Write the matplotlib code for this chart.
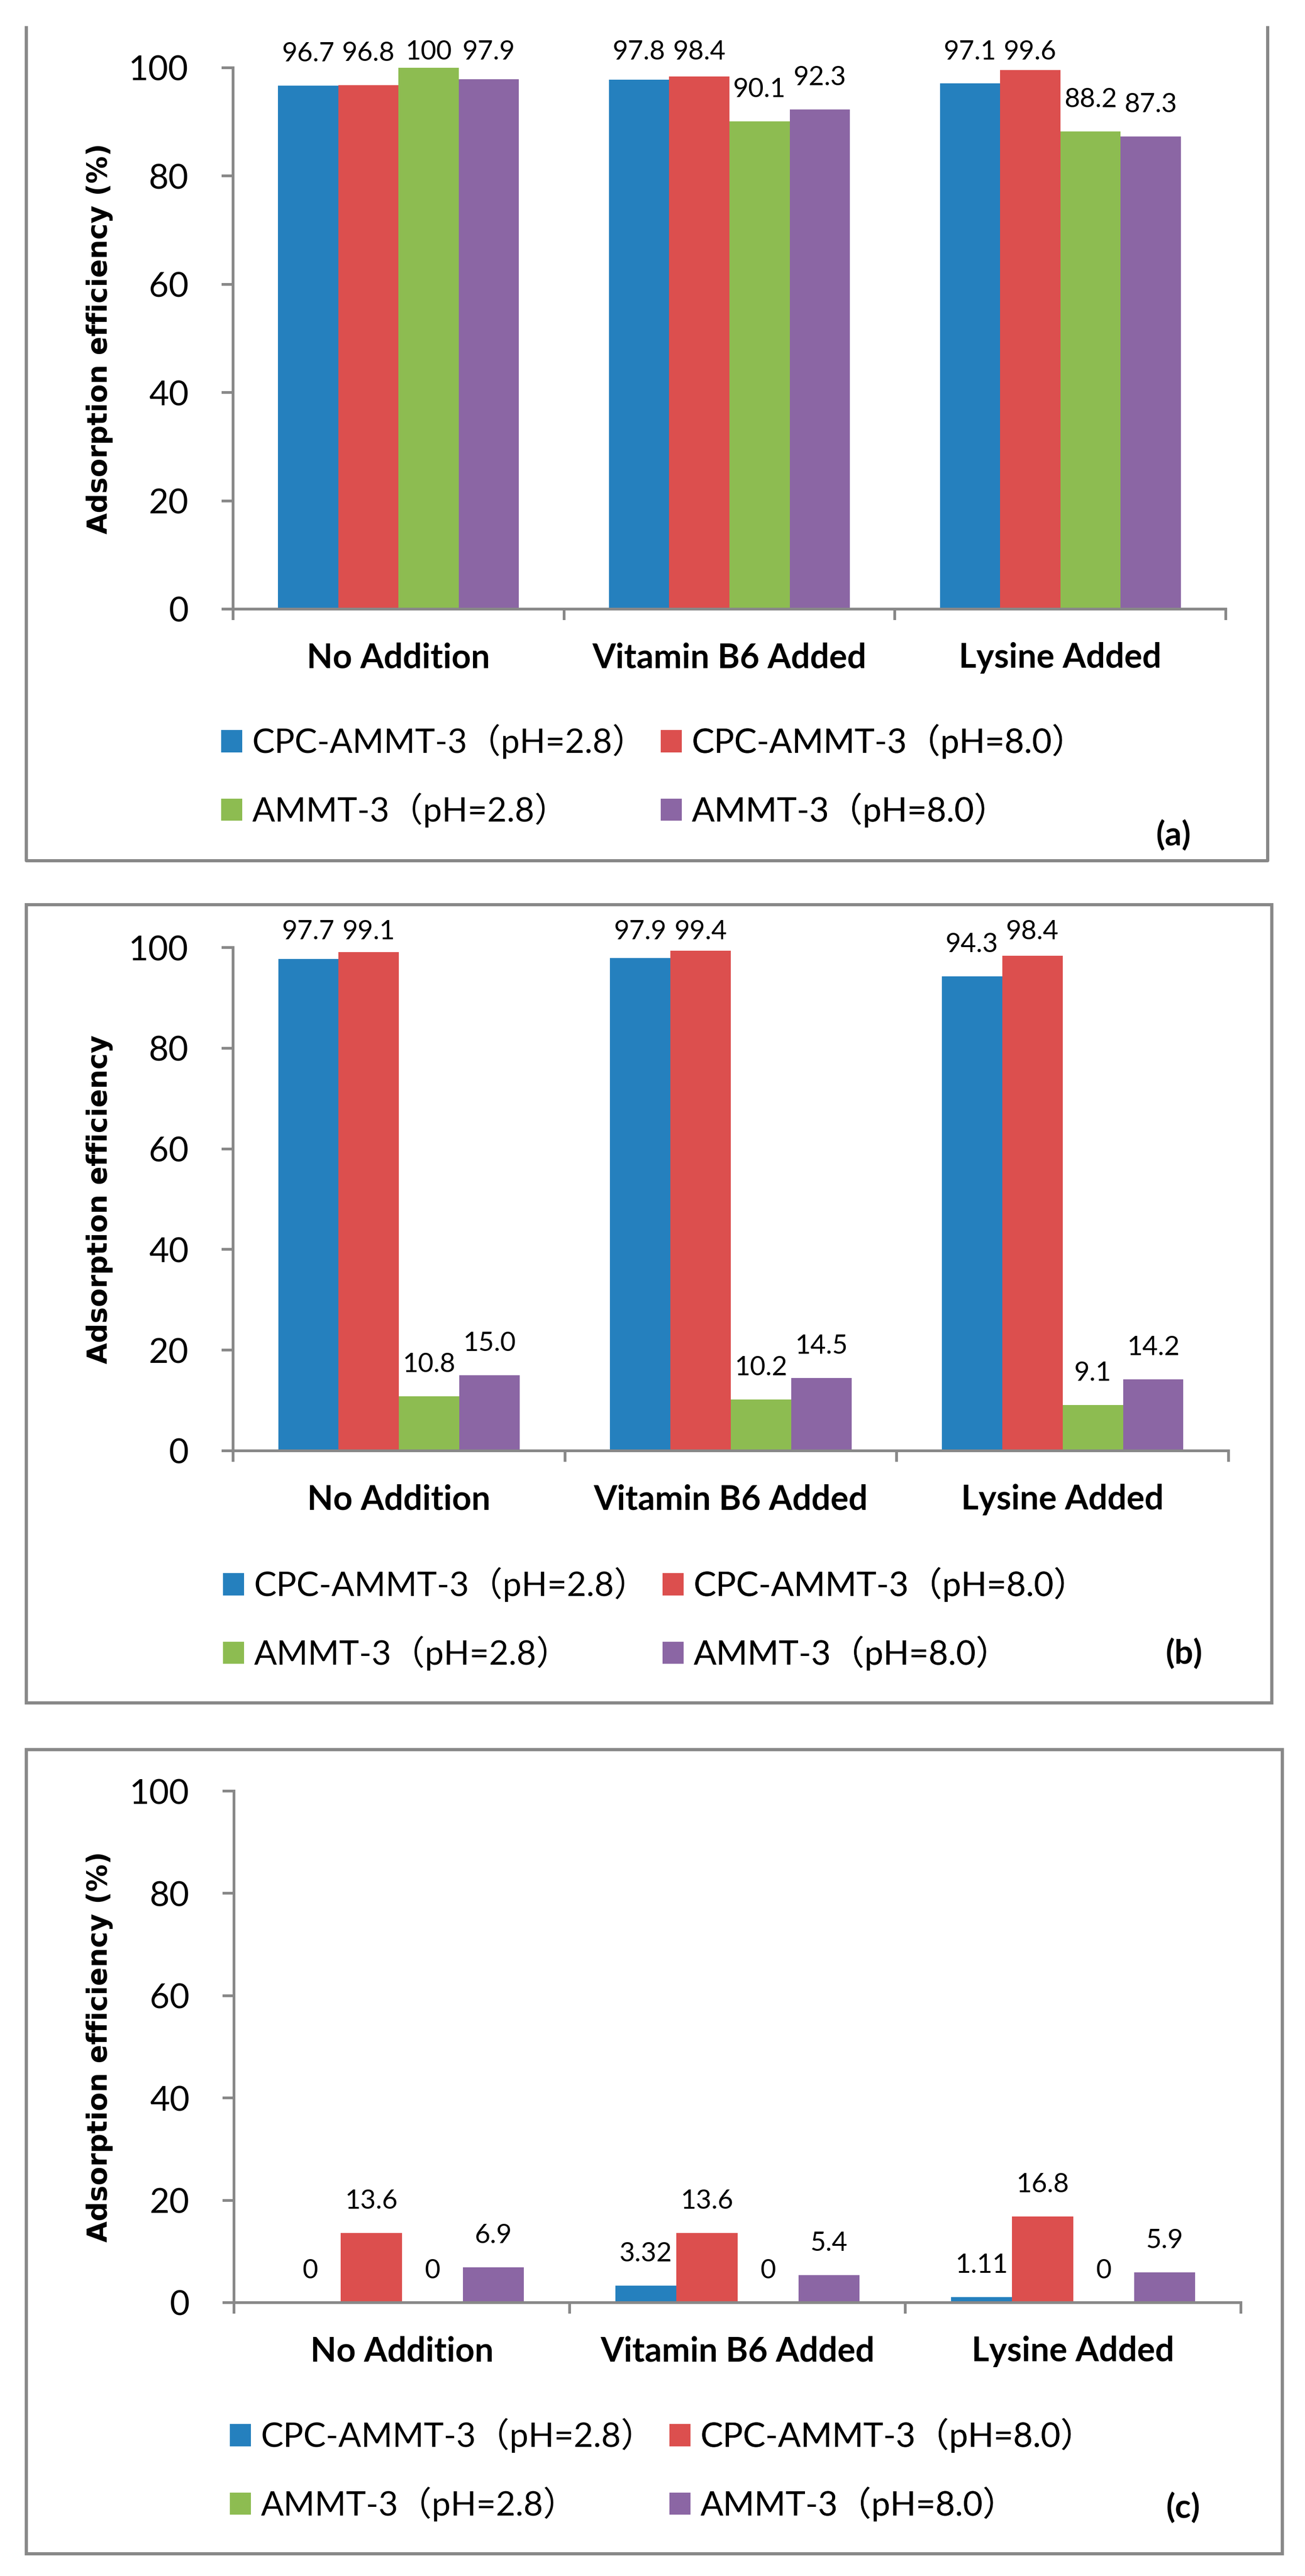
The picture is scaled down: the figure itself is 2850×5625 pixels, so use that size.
import matplotlib
matplotlib.use("Agg")
import numpy as np
import matplotlib.pyplot as plt
from matplotlib.patches import Patch, Rectangle
from matplotlib.lines import Line2D

# -------------------------------
# Data
# -------------------------------
categories = ["No Addition", "Vitamin B6 Added", "Lysine Added"]
series_names = ["CPC-AMMT-3（pH=2.8）", "CPC-AMMT-3（pH=8.0）",
                "AMMT-3（pH=2.8）", "AMMT-3（pH=8.0）"]
colors = ["#2580BE", "#DC4F4E", "#8DBC51", "#8B66A4"]
yticks = [0, 20, 40, 60, 80, 100]

# panel (a)
cpc_28_a = [96.7, 97.8, 97.1]
cpc_80_a = [96.8, 98.4, 99.6]
ammt_28_a = [100, 90.1, 88.2]
ammt_80_a = [97.9, 92.3, 87.3]

# panel (b)
cpc_28_b = [97.7, 97.9, 94.3]
cpc_80_b = [99.1, 99.4, 98.4]
ammt_28_b = [10.8, 10.2, 9.1]
ammt_80_b = [15.0, 14.5, 14.2]

# panel (c)
cpc_28_c = [0, 3.32, 1.11]
cpc_80_c = [13.6, 13.6, 16.8]
ammt_28_c = [0, 0, 0]
ammt_80_c = [6.9, 5.4, 5.9]

# -------------------------------
# Layout (pixels of the 2850 x 5625 canvas)
# -------------------------------
W, H = 2850, 5625
DPI = 100
GRAY = "#888888"
TXT = ["Lato", "Noto Sans CJK SC", "DejaVu Sans"]


def fx(px):
    return px / W


def fy(py):
    return 1 - py / H


panels = [
    dict(series=[cpc_28_a, cpc_80_a, ammt_28_a, ammt_80_a], fmt="{:g}",
         ylabel="Adsorption efficiency (%)", tag="(a)",
         axes=(509, 148, 2677, 1330), frame=(57, 60, 2768, 1879), top_line=False,
         legend=(483, 1694), tag_pos=(2563, 1824)),
    dict(series=[cpc_28_b, cpc_80_b, ammt_28_b, ammt_80_b], fmt="{:.1f}",
         ylabel="Adsorption efficiency", tag="(b)",
         axes=(509, 2069, 2683, 3168), frame=(57, 1975, 2777, 3718), top_line=True,
         legend=(487, 3535), tag_pos=(2586, 3611)),
    dict(series=[cpc_28_c, cpc_80_c, ammt_28_c, ammt_80_c], fmt="{:g}",
         ylabel="Adsorption efficiency (%)", tag="(c)",
         axes=(511, 3911, 2710, 5028), frame=(57, 3820, 2800, 5576), top_line=True,
         legend=(502, 5393), tag_pos=(2584, 5476)),
]
LEGEND_COL_STEP = 960  # px between the two legend columns

fig = plt.figure(figsize=(W / DPI, H / DPI), dpi=DPI)
fig.patch.set_facecolor("white")

x = np.arange(len(categories))
w = 0.182

for p in panels:
    l, t, r, b = p["axes"]
    ax = fig.add_axes([fx(l), fy(b), fx(r) - fx(l), fy(t) - fy(b)])

    for i, vals in enumerate(p["series"]):
        ax.bar(x + (i - 1.5) * w, vals, w, color=colors[i], label=series_names[i], zorder=2)

    ax.set_xlim(-0.5, 2.5)
    ax.set_ylim(0, 100)
    ax.set_yticks(yticks)

    # data labels: 53 px above bar top, capped just above the 100 line
    ppu = (b - t) / 100.0
    gap = 53 / ppu
    cap = 100 + 18 / ppu
    for i, vals in enumerate(p["series"]):
        for xi, v in zip(x, vals):
            ax.text(xi + (i - 1.5) * w, min(v + gap, cap), p["fmt"].format(v),
                    ha="center", va="baseline", fontsize=42, family=TXT,
                    clip_on=False)

    for s in ["top", "right"]:
        ax.spines[s].set_visible(False)
    for s in ["left", "bottom"]:
        ax.spines[s].set_color(GRAY)
        ax.spines[s].set_linewidth(4.3)

    ax.set_xticks([-0.5, 0.5, 1.5, 2.5])
    ax.set_xticklabels([])
    ax.set_xticks(x, minor=True)
    ax.set_xticklabels(categories, minor=True, fontsize=53, fontweight="bold", family=TXT)
    ax.tick_params(axis="x", which="major", direction="out", length=17, width=4.3, color=GRAY)
    ax.tick_params(axis="x", which="minor", length=0, pad=52)
    ax.tick_params(axis="y", direction="out", length=18, width=4.3, color=GRAY,
                   labelsize=54, pad=52)
    for lab in ax.get_yticklabels():
        lab.set_family(TXT)

    # y axis label
    fig.text(fx(218), (fy(t) + fy(b)) / 2, p["ylabel"], rotation=90, ha="center",
             va="center", fontsize=43, fontweight="bold", family="DejaVu Sans")

    # legend: two columns, each its own legend at a fixed position
    lx, ly = p["legend"]
    for col, idx in enumerate([(0, 2), (1, 3)]):
        leg = ax.legend([Patch(facecolor=colors[k], edgecolor="none") for k in idx],
                        [series_names[k] for k in idx],
                        loc="center left",
                        bbox_to_anchor=(fx(lx + col * LEGEND_COL_STEP), fy(ly)),
                        bbox_transform=fig.transFigure, frameon=False,
                        prop={"family": TXT, "size": 53}, borderpad=0, borderaxespad=0,
                        handlelength=0.62, handleheight=0.64, handletextpad=0.3,
                        labelspacing=1.0)
        ax.add_artist(leg)

    fig.text(fx(p["tag_pos"][0]), fy(p["tag_pos"][1]), p["tag"], ha="center",
             va="center", fontsize=52, fontweight="bold", family=TXT)

    # outer frame of the panel
    fl, ft, fr, fb = p["frame"]
    if p["top_line"]:
        fig.add_artist(Rectangle((fx(fl), fy(fb)), fx(fr) - fx(fl), fy(ft) - fy(fb),
                                 fill=False, edgecolor=GRAY, linewidth=5,
                                 transform=fig.transFigure))
    else:
        fig.add_artist(Line2D([fx(fl), fx(fl), fx(fr), fx(fr)],
                              [fy(ft), fy(fb), fy(fb), fy(ft)],
                              color=GRAY, linewidth=5, transform=fig.transFigure))

fig.savefig("out.png", dpi=DPI, facecolor="white")
